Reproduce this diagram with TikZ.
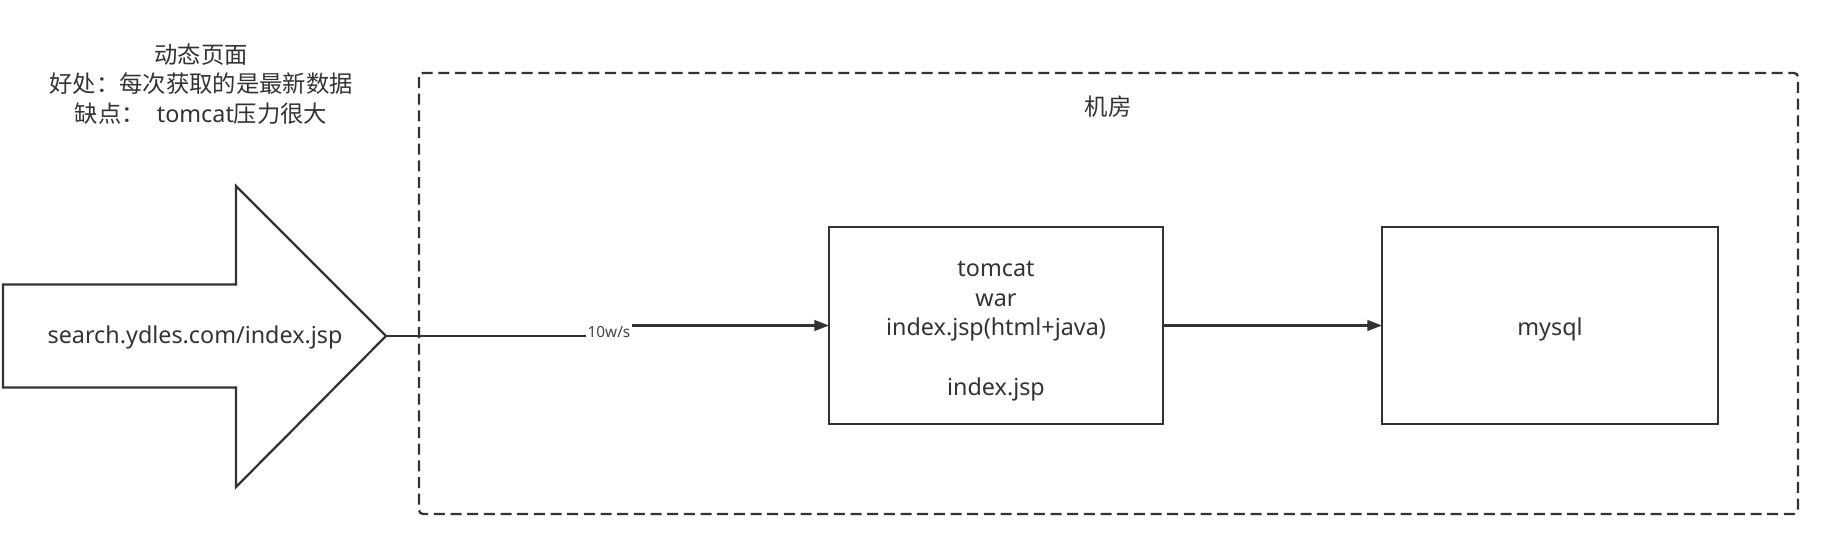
\documentclass[tikz,border=0pt]{standalone}
\usepackage{fontspec}
\setmainfont{Noto Sans}
\newfontfamily\cjk{Noto Sans CJK SC}
\usetikzlibrary{arrows.meta}
\definecolor{ln}{HTML}{333333}
\definecolor{lbltxt}{HTML}{3A4652}
\begin{document}
\begin{tikzpicture}[x=0.75pt,y=-0.75pt,
  box/.style={draw=ln,line width=1.7pt,minimum height=147.75pt,inner sep=0pt,outer sep=0pt},
  boxtext/.style={text=ln,align=center,inner sep=0pt,font=\fontsize{17.5}{22.3}\selectfont},
  conn/.style={draw=ln,line width=1.7pt},
  tip/.style={-{Triangle[length=11pt,width=8pt]}},
  title/.style={text=ln,align=center,font=\fontsize{17.5}{22}\selectfont},
  rlabel/.style={text=lbltxt,fill=white,inner sep=1pt,font=\fontsize{11.5}{13}\selectfont}]
\useasboundingbox (0,0) rectangle (1827,536);
% zone
\draw[draw=ln,line width=1.7pt,dash pattern=on 8.25pt off 4.25pt,rounded corners=3pt] (419,73) rectangle (1798,514);
\node[title,font=\fontsize{17.5}{22}\selectfont\cjk] (zone) at (1108,107) {机房};
% caption
\node[title] (cap) at (201,84) {{\cjk 动态页面}\\{\cjk 好处：每次获取的是最新数据}\\{\cjk 缺点：}\ \ tomcat{\cjk 压力很大}};
% big arrow
\coordinate (atip) at (386,336);
\draw[draw=ln,line width=1.7pt,line join=miter] (3,284.5) -- (236,284.5) -- (236,186) -- (atip) -- (236,487) -- (236,387.5) -- (3,387.5) -- cycle;
\node[text=ln,font=\fontsize{17.5}{22}\selectfont] (url) at (195,337) {search.ydles.com/index.jsp};
% boxes
\node[box,minimum width=250.5pt] (tomcat) at (996,325.5) {};
\node[boxtext] (tomcattext) at (996,331) {tomcat\\war\\index.jsp(html+java)\\\strut\\index.jsp};
\node[box,minimum width=252pt] (mysql) at (1550,325.5) {};
\node[boxtext] (mysqltext) at (1550,329.5) {mysql};
% connectors
\node[rlabel] (rate) at (609,332) {10w/s};
\draw[conn] (atip) -- (atip -| rate.west);
\draw[conn,tip] (rate.east |- tomcat.west) -- (tomcat.west);
\draw[conn,tip] (tomcat.east) -- (mysql.west);
\end{tikzpicture}
\end{document}
